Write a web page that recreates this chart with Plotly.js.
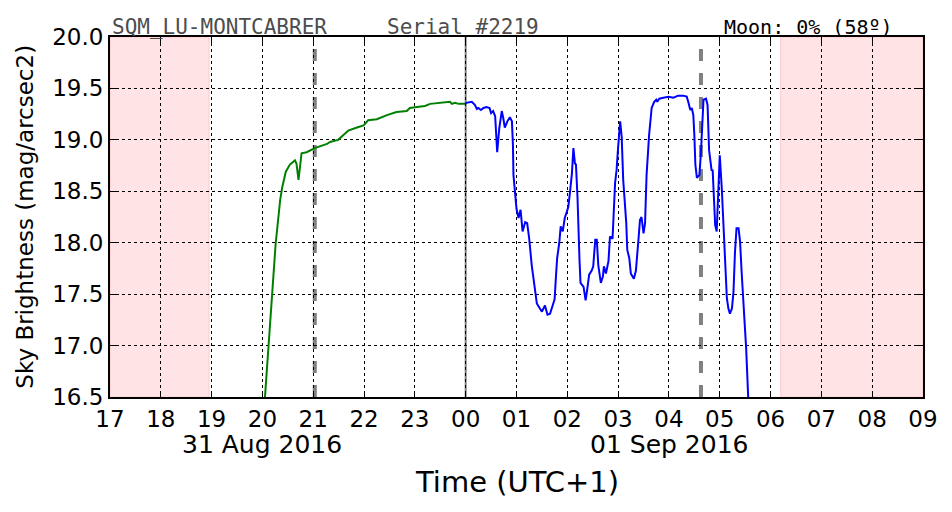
<!DOCTYPE html>
<html>
<head>
<meta charset="utf-8">
<script src="https://cdn.plot.ly/plotly-3.0.1.min.js"></script>
<style>
  body { margin: 0; background: #fff; }
  #chart { width: 952px; height: 512px; }
</style>
</head>
<body>
<div id="chart"></div>
<script>
// Time in hours since 00:00 on 31 Aug 2016 (values > 24 are on 01 Sep)
const duskHours = [20.05, 20.115, 20.18, 20.26, 20.35, 20.39, 20.46, 20.54, 20.64, 20.67, 20.71, 20.74,
    20.77, 20.87, 21.03, 21.27, 21.33, 21.49, 21.53, 21.69, 21.86, 21.99, 22.08, 22.25, 22.45, 22.64,
    22.84, 22.9, 23.04, 23.2, 23.3, 23.56, 23.69, 23.73, 23.79, 23.86, 23.99];
const duskMag = [16.5, 16.99, 17.49, 17.99, 18.42, 18.54, 18.69, 18.76, 18.8, 18.77, 18.61, 18.74,
    18.87, 18.88, 18.92, 18.96, 18.98, 19.0, 19.02, 19.09, 19.12, 19.14, 19.19, 19.2, 19.24, 19.27,
    19.28, 19.31, 19.32, 19.33, 19.35, 19.36, 19.37, 19.35, 19.36, 19.35, 19.35];

const nightHours = [23.99, 24.01, 24.12, 24.18, 24.22, 24.25, 24.3, 24.35, 24.41, 24.47, 24.5, 24.54,
    24.58, 24.6, 24.62, 24.66, 24.71, 24.74, 24.77, 24.82, 24.87, 24.91, 24.93, 24.94, 24.97, 25.0,
    25.04, 25.08, 25.12, 25.17, 25.21, 25.25, 25.3, 25.35, 25.4, 25.46, 25.5, 25.56, 25.61, 25.66,
    25.71, 25.75, 25.78, 25.8, 25.84, 25.87, 25.91, 25.95, 25.99, 26.02, 26.05, 26.09, 26.12, 26.15,
    26.17, 26.2, 26.24, 26.26, 26.32, 26.36, 26.39, 26.43, 26.48, 26.51, 26.55, 26.58, 26.61, 26.66,
    26.7, 26.72, 26.76, 26.81, 26.84, 26.89, 26.94, 26.97, 27.0, 27.04, 27.07, 27.1, 27.16, 27.18,
    27.22, 27.25, 27.31, 27.35, 27.4, 27.43, 27.46, 27.5, 27.53, 27.56, 27.61, 27.66, 27.71, 27.75,
    27.77, 27.81, 27.89, 27.99, 28.09, 28.14, 28.18, 28.28, 28.35, 28.38, 28.42, 28.45, 28.48, 28.5,
    28.52, 28.55, 28.6, 28.63, 28.66, 28.68, 28.73, 28.76, 28.79, 28.84, 28.86, 28.89, 28.91, 28.94,
    28.97, 29.0, 29.04, 29.07, 29.1, 29.14, 29.17, 29.2, 29.24, 29.27, 29.3, 29.33, 29.37, 29.4,
    29.43, 29.48, 29.52, 29.56];
const nightMag = [19.35, 19.36, 19.37, 19.34, 19.3, 19.31, 19.29, 19.31, 19.32, 19.31, 19.26, 19.28,
    19.23, 19.08, 18.88, 19.11, 19.28, 19.21, 19.12, 19.18, 19.22, 19.18, 18.95, 18.66, 18.5, 18.33,
    18.24, 18.32, 18.11, 18.2, 18.19, 18.04, 17.78, 17.59, 17.41, 17.36, 17.33, 17.39, 17.3, 17.31,
    17.39, 17.45, 17.7, 17.85, 17.99, 18.16, 18.11, 18.24, 18.3, 18.35, 18.48, 18.67, 18.92, 18.77,
    18.76, 18.45, 17.83, 17.61, 17.57, 17.44, 17.54, 17.69, 17.73, 17.77, 18.03, 18.03, 17.78, 17.61,
    17.67, 17.77, 17.7, 17.82, 18.06, 18.04, 18.58, 18.71, 18.93, 19.18, 19.03, 18.61, 18.19, 17.93,
    17.85, 17.7, 17.65, 17.73, 18.03, 18.22, 18.25, 18.09, 18.19, 18.66, 19.05, 19.31, 19.37, 19.39,
    19.37, 19.4, 19.41, 19.42, 19.41, 19.42, 19.43, 19.43, 19.42, 19.37, 19.29, 19.31, 19.24, 19.05,
    18.76, 18.63, 18.66, 18.88, 19.27, 19.39, 19.4, 19.34, 18.9, 18.7, 18.71, 18.46, 18.17, 18.11,
    18.43, 18.85, 18.53, 18.24, 17.85, 17.46, 17.36, 17.31, 17.36, 17.52, 17.91, 18.14, 18.14, 18.01,
    17.72, 17.33, 16.97, 16.5];

const tickHours = [17, 18, 19, 20, 21, 22, 23, 24, 25, 26, 27, 28, 29, 30, 31, 32, 33];
const tickLabels = ['17', '18', '19', '20', '21', '22', '23', '00', '01', '02', '03', '04', '05', '06', '07', '08', '09'];
const magTicks = [16.5, 17.0, 17.5, 18.0, 18.5, 19.0, 19.5, 20.0];

// twilight shading and markers
const daylight = [[17, 18.95], [30.2, 33]];
const dashedMarks = [21.03, 28.63];
const midnight = 24.0;

const baseFont = 'DejaVu Sans, sans-serif';
const monoFont = 'DejaVu Sans Mono, monospace';

const shapes = [];
daylight.forEach(r => {
    shapes.push({
        type: 'rect', xref: 'x', yref: 'paper', x0: r[0], x1: r[1], y0: 0, y1: 1,
        fillcolor: '#ffe3e5', line: {color: '#ffc8cc', width: 1}, layer: 'below'
    });
});
dashedMarks.forEach(h => {
    shapes.push({
        type: 'line', xref: 'x', yref: 'paper', x0: h, x1: h, y0: 0, y1: 1,
        line: {color: '#808080', width: 4, dash: '12px,12px'}, layer: 'between'
    });
});
shapes.push({
    type: 'line', xref: 'x', yref: 'paper', x0: midnight, x1: midnight, y0: 0, y1: 1,
    line: {color: '#7f7f7f', width: 2}, layer: 'between'
});

const data = [
    {x: duskHours, y: duskMag, type: 'scatter', mode: 'lines',
     line: {color: '#008000', width: 2}, hoverinfo: 'skip'},
    {x: nightHours, y: nightMag, type: 'scatter', mode: 'lines',
     line: {color: '#0000ff', width: 2}, hoverinfo: 'skip'}
];

const layout = {
    width: 952, height: 512,
    margin: {l: 110, r: 29, t: 37, b: 115},
    paper_bgcolor: '#fff', plot_bgcolor: '#fff',
    showlegend: false,
    font: {family: baseFont, size: 23, color: '#000'},
    xaxis: {
        range: [17, 33], tickvals: tickHours, ticktext: tickLabels,
        showgrid: true, gridcolor: '#000', gridwidth: 1, griddash: 'dot',
        showline: true, linecolor: '#000', linewidth: 2, mirror: 'ticks',
        ticks: 'inside', ticklen: 6, tickcolor: '#000', zeroline: false,
        tickfont: {family: baseFont, size: 23}
    },
    yaxis: {
        range: [16.5, 20.0], tickvals: magTicks, tickformat: '.1f',
        showgrid: true, gridcolor: '#000', gridwidth: 1, griddash: 'dot',
        showline: true, linecolor: '#000', linewidth: 2, mirror: 'ticks',
        ticks: 'inside', ticklen: 6, tickcolor: '#000', zeroline: false,
        tickfont: {family: baseFont, size: 23}
    },
    shapes: shapes,
    annotations: [
        {text: 'SQM_LU-MONTCABRER', xref: 'paper', yref: 'paper', x: 0, y: 1.028,
         xanchor: 'left', yanchor: 'middle', showarrow: false,
         font: {family: monoFont, size: 21, color: '#4d4d4d'}},
        {text: 'Serial #2219', xref: 'paper', yref: 'paper', x: 0.338, y: 1.028,
         xanchor: 'left', yanchor: 'middle', showarrow: false,
         font: {family: monoFont, size: 21, color: '#4d4d4d'}},
        {text: 'Moon: 0% (58º)', xref: 'paper', yref: 'paper', x: 0.966, y: 1.028,
         xanchor: 'right', yanchor: 'middle', showarrow: false,
         font: {family: monoFont, size: 20, color: '#000'}},
        {text: '31 Aug 2016', xref: 'x', yref: 'paper', x: 20, y: -0.133,
         xanchor: 'center', yanchor: 'middle', showarrow: false,
         font: {family: baseFont, size: 25}},
        {text: '01 Sep 2016', xref: 'x', yref: 'paper', x: 28, y: -0.133,
         xanchor: 'center', yanchor: 'middle', showarrow: false,
         font: {family: baseFont, size: 25}},
        {text: 'Time (UTC+1)', xref: 'paper', yref: 'paper', x: 0.5, y: -0.236,
         xanchor: 'center', yanchor: 'middle', showarrow: false,
         font: {family: baseFont, size: 29}},
        {text: 'Sky Brightness (mag/arcsec2)', xref: 'paper', yref: 'paper', x: -0.105, y: 0.5,
         xanchor: 'center', yanchor: 'middle', textangle: -90, showarrow: false,
         font: {family: baseFont, size: 23}}
    ]
};

Plotly.newPlot('chart', data, layout, {staticPlot: true});
</script>
</body>
</html>
